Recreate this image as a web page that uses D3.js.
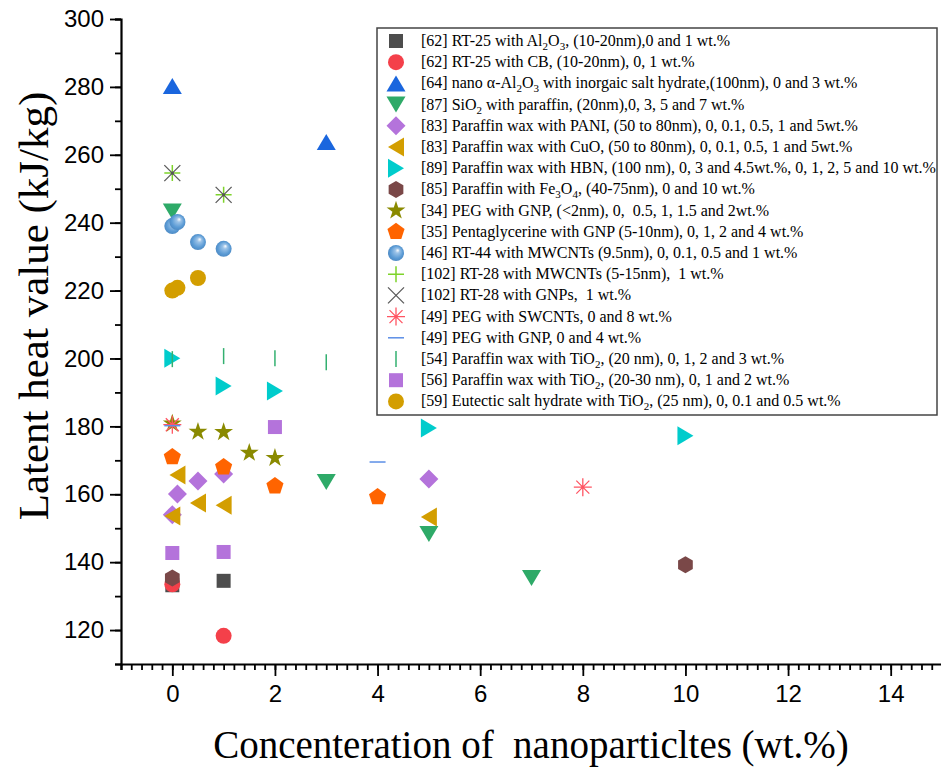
<!DOCTYPE html>
<html>
<head>
<meta charset="utf-8">
<script src="https://cdn.jsdelivr.net/npm/d3@7"></script>
<style>
  body { margin: 0; background: #fff; }
  svg { display: block; }
</style>
</head>
<body>
<svg id="chart" width="941" height="776"></svg>
<script>
// data
const xTicks = [0, 2, 4, 6, 8, 10, 12, 14];
const yTicks = [120, 140, 160, 180, 200, 220, 240, 260, 280, 300];

const legendLabels = [
  "[62] RT-25 with Al_{2}O_{3}, (10-20nm),0 and 1 wt.%",
  "[62] RT-25 with CB, (10-20nm), 0, 1 wt.%",
  "[64] nano \u03b1-Al_{2}O_{3} with inorgaic salt hydrate,(100nm), 0 and 3 wt.%",
  "[87] SiO_{2} with paraffin, (20nm),0, 3, 5 and 7 wt.%",
  "[83] Paraffin wax with PANI, (50 to 80nm), 0, 0.1, 0.5, 1 and 5wt.%",
  "[83] Paraffin wax with CuO, (50 to 80nm), 0, 0.1, 0.5, 1 and 5wt.%",
  "[89] Paraffin wax with HBN, (100 nm), 0, 3 and 4.5wt.%, 0, 1, 2, 5 and 10 wt.%",
  "[85] Paraffin with Fe_{3}O_{4}, (40-75nm), 0 and 10 wt.%",
  "[34] PEG with GNP, (<2nm), 0,  0.5, 1, 1.5 and 2wt.%",
  "[35] Pentaglycerine with GNP (5-10nm), 0, 1, 2 and 4 wt.%",
  "[46] RT-44 with MWCNTs (9.5nm), 0, 0.1, 0.5 and 1 wt.%",
  "[102] RT-28 with MWCNTs (5-15nm),  1 wt.%",
  "[102] RT-28 with GNPs,  1 wt.%",
  "[49] PEG with SWCNTs, 0 and 8 wt.%",
  "[49] PEG with GNP, 0 and 4 wt.%",
  "[54] Paraffin wax with TiO_{2}, (20 nm), 0, 1, 2 and 3 wt.%",
  "[56] Paraffin wax with TiO_{2}, (20-30 nm), 0, 1 and 2 wt.%",
  "[59] Eutectic salt hydrate with TiO_{2}, (25 nm), 0, 0.1 and 0.5 wt.%"
];

const xAl2O3 = [0, 1],            yAl2O3 = [133.2, 134.5];
const xCB = [0, 1],               yCB = [133.5, 118.3];
const xNanoAl = [0, 3],           yNanoAl = [280.3, 263.8];
const xSiO2 = [0, 3, 5, 7],       ySiO2 = [243.3, 163.6, 148.3, 135.3];
const xPANI = [0, 0.1, 0.5, 1, 5], yPANI = [154, 160.1, 163.9, 166, 164.5];
const xCuO = [0, 0.1, 0.5, 1, 5],  yCuO = [153.6, 165.7, 157.4, 156.8, 153.3];
const xHBN = [0, 1, 2, 5, 10],     yHBN = [200.1, 191.9, 190.4, 179.5, 177.2];
const xFe3O4 = [0, 10],           yFe3O4 = [135.3, 139.2];
const xPegGnp = [0, 0.5, 1, 1.5, 2], yPegGnp = [180.8, 178.4, 178.3, 172.2, 170.7];
const xPenta = [0, 1, 2, 4],      yPenta = [171, 168, 162.4, 159.2];
const xRT44 = [0, 0.1, 0.5, 1],   yRT44 = [239, 240.2, 234.3, 232.3];
const xRT28Mw = [0, 1],           yRT28Mw = [254.6, 248.2];
const xRT28Gnp = [0, 1],          yRT28Gnp = [254.6, 248.2];
const xSwcnt = [0, 8],            ySwcnt = [180.5, 162.1];
const xPegGnp2 = [0, 4],          yPegGnp2 = [180.2, 169.5];
const xTiO2a = [0, 1, 2, 3],      yTiO2a = [199.8, 200.7, 200.1, 198.9];
const xTiO2b = [0, 1, 2],         yTiO2b = [142.7, 143, 179.8];
const xEutectic = [0, 0.1, 0.5],  yEutectic = [220, 220.8, 223.7];

const seriesX = [xAl2O3, xCB, xNanoAl, xSiO2, xPANI, xCuO, xHBN, xFe3O4, xPegGnp,
  xPenta, xRT44, xRT28Mw, xRT28Gnp, xSwcnt, xPegGnp2, xTiO2a, xTiO2b, xEutectic];
const seriesY = [yAl2O3, yCB, yNanoAl, ySiO2, yPANI, yCuO, yHBN, yFe3O4, yPegGnp,
  yPenta, yRT44, yRT28Mw, yRT28Gnp, ySwcnt, yPegGnp2, yTiO2a, yTiO2b, yEutectic];

// marker style per series
const markers = [
  { shape: "square", color: "#4d4d4d" },
  { shape: "circle", color: "#f4404a" },
  { shape: "triUp", color: "#1a66de" },
  { shape: "triDown", color: "#2eaa68" },
  { shape: "diamond", color: "#b473db" },
  { shape: "triLeft", color: "#d39e00" },
  { shape: "triRight", color: "#00cccc" },
  { shape: "hexagon", color: "#7a4848" },
  { shape: "star", color: "#8a8a00" },
  { shape: "pentagon", color: "#ff6400" },
  { shape: "sphere", color: "#5b9bd5" },
  { shape: "plus", color: "#7ed32b" },
  { shape: "cross", color: "#5a5a5a" },
  { shape: "asterisk", color: "#ff5563" },
  { shape: "dash", color: "#5b8ee6" },
  { shape: "bar", color: "#33b070" },
  { shape: "square", color: "#b473db" },
  { shape: "circle", color: "#d39e00" }
];

const svg = d3.select("#chart");
const plotLeft = 121, plotTop = 19, plotRight = 942, plotBottom = 664;

const x = d3.scaleLinear().domain([-1, 15]).range([plotLeft, plotRight]);
const y = d3.scaleLinear().domain([110, 300]).range([plotBottom, plotTop]);

const defs = svg.append("defs");
const grad = defs.append("radialGradient").attr("id", "sphere")
  .attr("cx", "0.5").attr("cy", "0.5").attr("r", "0.55")
  .attr("fx", "0.62").attr("fy", "0.32");
grad.append("stop").attr("offset", "0").attr("stop-color", "#ffffff");
grad.append("stop").attr("offset", "0.25").attr("stop-color", "#9cc3e8");
grad.append("stop").attr("offset", "0.7").attr("stop-color", "#5b9bd5");
grad.append("stop").attr("offset", "1").attr("stop-color", "#4a86c0");

function poly(n, r, rot) {
  const pts = d3.range(n).map(i => {
    const a = rot + i * 2 * Math.PI / n;
    return [r * Math.sin(a), -r * Math.cos(a)];
  });
  return "M" + pts.map(p => p.join(",")).join("L") + "Z";
}

function drawMarker(g, shape, color) {
  switch (shape) {
    case "square":
      g.append("rect").attr("x", -7).attr("y", -7).attr("width", 14).attr("height", 14).attr("fill", color);
      break;
    case "circle":
      g.append("circle").attr("r", 8).attr("fill", color);
      break;
    case "sphere":
      g.append("circle").attr("r", 8).attr("fill", "url(#sphere)");
      break;
    case "triUp":
      g.append("path").attr("d", "M0,-8L9.5,8L-9.5,8Z").attr("fill", color);
      break;
    case "triDown":
      g.append("path").attr("d", "M0,8L9.5,-8L-9.5,-8Z").attr("fill", color);
      break;
    case "triLeft":
      g.append("path").attr("d", "M-8,0L8,-9.5L8,9.5Z").attr("fill", color);
      break;
    case "triRight":
      g.append("path").attr("d", "M8,0L-8,-9.5L-8,9.5Z").attr("fill", color);
      break;
    case "diamond":
      g.append("path").attr("d", poly(4, 9.5, 0)).attr("fill", color);
      break;
    case "hexagon":
      g.append("path").attr("d", poly(6, 8.5, 0)).attr("fill", color);
      break;
    case "pentagon":
      g.append("path").attr("d", poly(5, 9, 0)).attr("fill", color);
      break;
    case "star":
      g.append("path").attr("d", d3.symbol().type(d3.symbolStar).size(110)()).attr("fill", color);
      break;
    case "plus":
      g.append("path").attr("d", "M-8,0H8M0,-8V8").attr("stroke", color).attr("stroke-width", 1.5);
      break;
    case "cross":
      g.append("path").attr("d", "M-8,-8L8,8M-8,8L8,-8").attr("stroke", color).attr("stroke-width", 1.3);
      break;
    case "asterisk":
      g.append("path").attr("d", "M-9,0H9M0,-9V9M-6.5,-6.5L6.5,6.5M-6.5,6.5L6.5,-6.5")
        .attr("stroke", color).attr("stroke-width", 1.3);
      break;
    case "dash":
      g.append("path").attr("d", "M-8,0H8").attr("stroke", color).attr("stroke-width", 1.5);
      break;
    case "bar":
      g.append("path").attr("d", "M0,-8V8").attr("stroke", color).attr("stroke-width", 1.5);
      break;
  }
}

// points
const plot = svg.append("g");
seriesX.forEach((xs, s) => {
  xs.forEach((v, i) => {
    const g = plot.append("g").attr("transform", `translate(${x(v)},${y(seriesY[s][i])})`);
    drawMarker(g, markers[s].shape, markers[s].color);
  });
});
// centre dot where plus and cross overlap
xRT28Mw.forEach((v, i) => {
  plot.append("circle").attr("cx", x(v)).attr("cy", y(yRT28Mw[i])).attr("r", 1.6).attr("fill", "#555");
});

// axes
const xAxis = svg.append("g").attr("transform", `translate(0,${plotBottom})`);
xAxis.call(d3.axisBottom(x).tickValues(d3.range(-1, 15.01, 0.2)).tickSize(6).tickFormat(""));
const xMajor = svg.append("g").attr("transform", `translate(0,${plotBottom})`)
  .call(d3.axisBottom(x).tickValues(xTicks).tickSize(12).tickPadding(9).tickFormat(d3.format("d")));
xMajor.select(".domain").remove();

const yAxis = svg.append("g").attr("transform", `translate(${plotLeft},0)`);
yAxis.call(d3.axisLeft(y).tickValues(d3.range(110, 300.1, 10)).tickSize(6).tickFormat(""));
const yMajor = svg.append("g").attr("transform", `translate(${plotLeft},0)`)
  .call(d3.axisLeft(y).tickValues(yTicks).tickSize(11).tickPadding(6).tickFormat(d3.format("d")));
yMajor.select(".domain").remove();

svg.selectAll(".domain").attr("stroke", "#000").attr("stroke-width", 2.2);
svg.selectAll(".tick line").attr("stroke", "#000").attr("stroke-width", 1.8);
svg.selectAll(".tick text").attr("font-family", "Liberation Sans, Arial, sans-serif")
  .attr("font-size", 24).attr("fill", "#000");

// axis titles
svg.append("text")
  .attr("transform", `translate(48,306) rotate(-90)`)
  .attr("text-anchor", "middle")
  .attr("font-family", "Liberation Serif, Times New Roman, serif")
  .attr("font-size", 43).text("Latent heat value (kJ/kg)");

svg.append("text")
  .attr("x", 531).attr("y", 758)
  .attr("text-anchor", "middle")
  .attr("font-family", "Liberation Serif, Times New Roman, serif")
  .attr("font-size", 39).style("white-space", "pre")
  .text("Concenteration of  nanoparticltes (wt.%)");

// legend
const leg = svg.append("g");
leg.append("rect").attr("x", 377).attr("y", 28).attr("width", 560).attr("height", 387)
  .attr("fill", "#fff").attr("stroke", "#444").attr("stroke-width", 1.5);
legendLabels.forEach((lab, i) => {
  const ry = 41 + i * 21.2;
  const g = leg.append("g").attr("transform", `translate(396,${ry})`);
  drawMarker(g, markers[i].shape, markers[i].color);
  const t = leg.append("text").attr("x", 421).attr("y", ry + 5)
    .attr("font-family", "Liberation Serif, Times New Roman, serif")
    .attr("font-size", 16).style("white-space", "pre");
  let shift = 0;
  lab.split(/(_\{[^}]*\})/).forEach(part => {
    if (!part) return;
    const sub = part.startsWith("_{");
    const want = sub ? 4 : 0;
    const ts = t.append("tspan").attr("dy", want - shift).text(sub ? part.slice(2, -1) : part);
    if (sub) ts.attr("font-size", 11);
    shift = want;
  });
});
</script>
</body>
</html>
